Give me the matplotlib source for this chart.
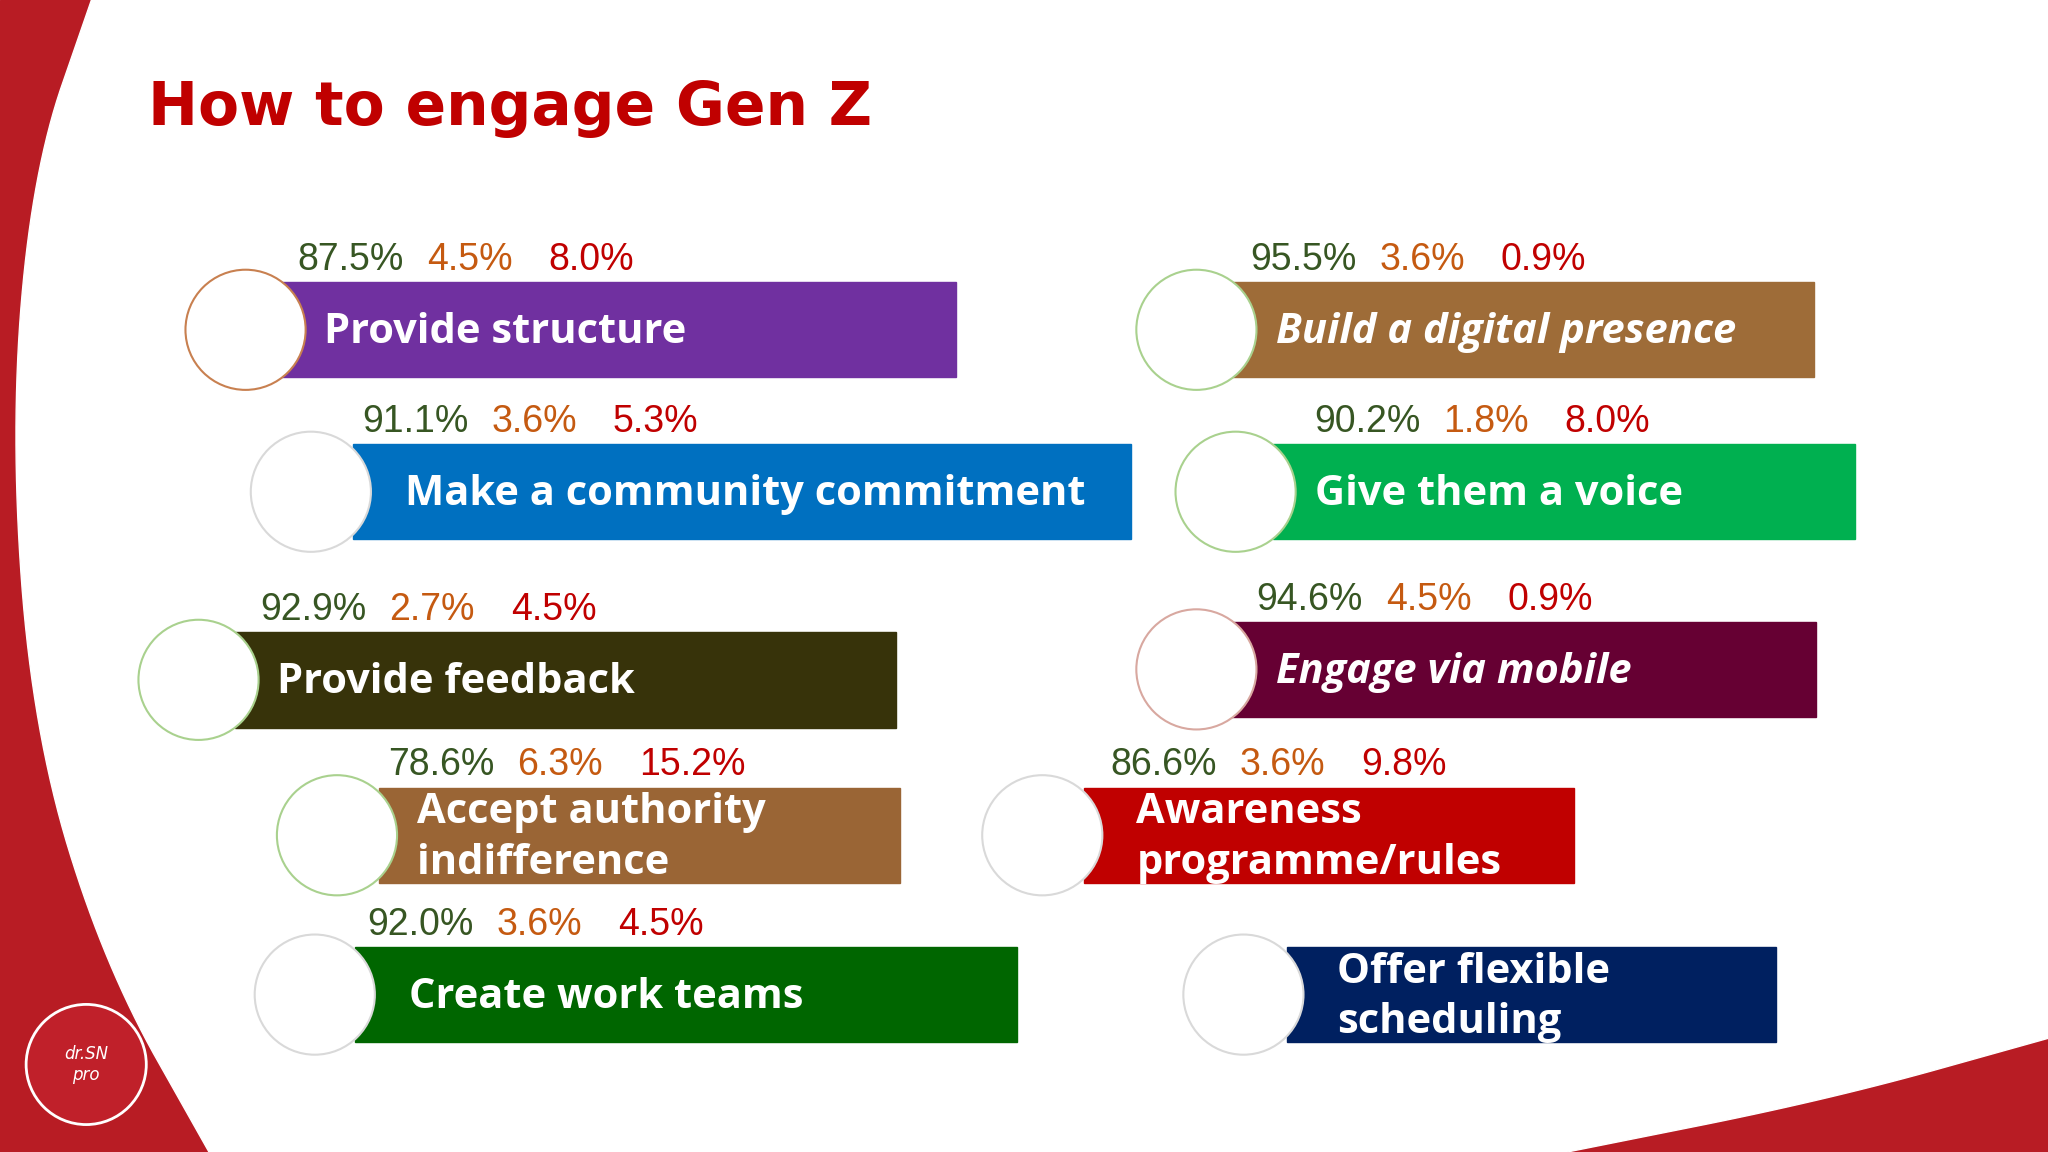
import numpy as np
import matplotlib.pyplot as plt
from matplotlib.patches import Circle, Rectangle, Polygon

# chart data
labels = ['Provide structure', 'Make a community commitment', 'Provide feedback',
          'Accept authority\nindifference', 'Create work teams',
          'Build a digital presence', 'Give them a voice', 'Engage via mobile',
          'Awareness\nprogramme/rules', 'Offer flexible\nscheduling']
agree = [87.5, 91.1, 92.9, 78.6, 92.0, 95.5, 90.2, 94.6, 86.6, None]
neutral = [4.5, 3.6, 2.7, 6.3, 3.6, 3.6, 1.8, 4.5, 3.6, None]
disagree = [8.0, 5.3, 4.5, 15.2, 4.5, 0.9, 8.0, 0.9, 9.8, None]
bar_colors = ['#7030A0', '#0070C0', '#37330A', '#9A6535', '#006600',
              '#9E6C38', '#00B050', '#660033', '#C00000', '#002060']
italic = [False] * 5 + [True, False, True, False, False]

# layout (reference pixel space 1568 x 882)
circ_x = [188, 238, 152, 258, 241, 916, 946, 916, 798, 952]
text_off = [60, 72, 60, 61, 72, 61, 61, 61, 72, 72]
bar_x0 = [210, 270, 180, 290, 272, 940, 975, 940, 830, 985]
bar_x1 = [732, 866, 686, 689, 779, 1389, 1420, 1390, 1205, 1360]
bar_top = [216, 340, 484, 603, 725, 216, 340, 476, 603, 725]
lab_x = [228, 277, 199, 297, 281, 957, 1006, 962, 850, 0]
ring = ['#C88050', '#D9D9D9', '#A9D18E', '#A9D18E', '#D9D9D9',
        '#A9D18E', '#A9D18E', '#D8A8A0', '#D9D9D9', '#D9D9D9']

fig = plt.figure(figsize=(20.48, 11.52), dpi=100)
ax = fig.add_axes([0, 0, 1, 1])
ax.set_xlim(0, 1568)
ax.set_ylim(882, 0)
ax.axis('off')


def smooth(pts, n=20):
    # chaikin smoothing of a polyline
    p = np.array(pts, float)
    for _ in range(4):
        q = [p[0]]
        for a, b in zip(p[:-1], p[1:]):
            q += [0.75 * a + 0.25 * b, 0.25 * a + 0.75 * b]
        q.append(p[-1])
        p = np.array(q)
    return p


# background swooshes
ax.add_patch(Rectangle((0, 0), 1568, 882, color='#B81C24', zorder=0))
pink = smooth([(115, 0), (55, 130), (35, 330), (55, 560), (130, 760), (240, 882)])
pink_right = smooth([(1080, 882), (1360, 835), (1568, 750)])
ax.add_patch(Polygon(np.vstack([pink, pink_right, [(1568, 0)]]), closed=True,
                     color='#D9535B', zorder=0.5))
white = smooth([(70, 0), (25, 130), (8, 330), (25, 560), (80, 740), (160, 882)])
white_right = smooth([(1200, 882), (1400, 842), (1568, 795)])
ax.add_patch(Polygon(np.vstack([white, white_right, [(1568, 0)]]), closed=True,
                     color='white', zorder=1))

ax.text(113, 83, 'How to engage Gen Z', color='#C00000', fontsize=43,
        fontweight='bold', family='DejaVu Sans', va='center', zorder=5)

h = 73
for i in range(len(labels)):
    ax.add_patch(Rectangle((bar_x0[i], bar_top[i]), bar_x1[i] - bar_x0[i], h,
                           color=bar_colors[i], zorder=2))
    ax.add_patch(Circle((circ_x[i], bar_top[i] + h / 2), 46, facecolor='white',
                        edgecolor=ring[i], lw=1.5, zorder=3))
    ax.text(circ_x[i] + text_off[i], bar_top[i] + h / 2 + 2, labels[i], color='white',
            fontsize=30, fontweight='bold', family='Open Sans',
            style='italic' if italic[i] else 'normal', va='center',
            linespacing=1.3, zorder=4)
    if agree[i] is not None:
        y = bar_top[i] - 17
        for off, v, c in [(0, agree[i], '#375623'), (99, neutral[i], '#C55A11'),
                          (192, disagree[i], '#C00000')]:
            ax.text(lab_x[i] + off, y, f'{v:.1f}%', color=c, fontsize=27,
                    family='Liberation Sans', va='center', zorder=4)

# logo circle
ax.add_patch(Circle((66, 815), 46, facecolor='#C0202A', edgecolor='white',
                    lw=2, zorder=5))
ax.text(66, 815, 'dr.SN\npro', color='white', fontsize=12, ha='center',
        va='center', style='italic', zorder=6)

fig.savefig('out.png', dpi=100)
